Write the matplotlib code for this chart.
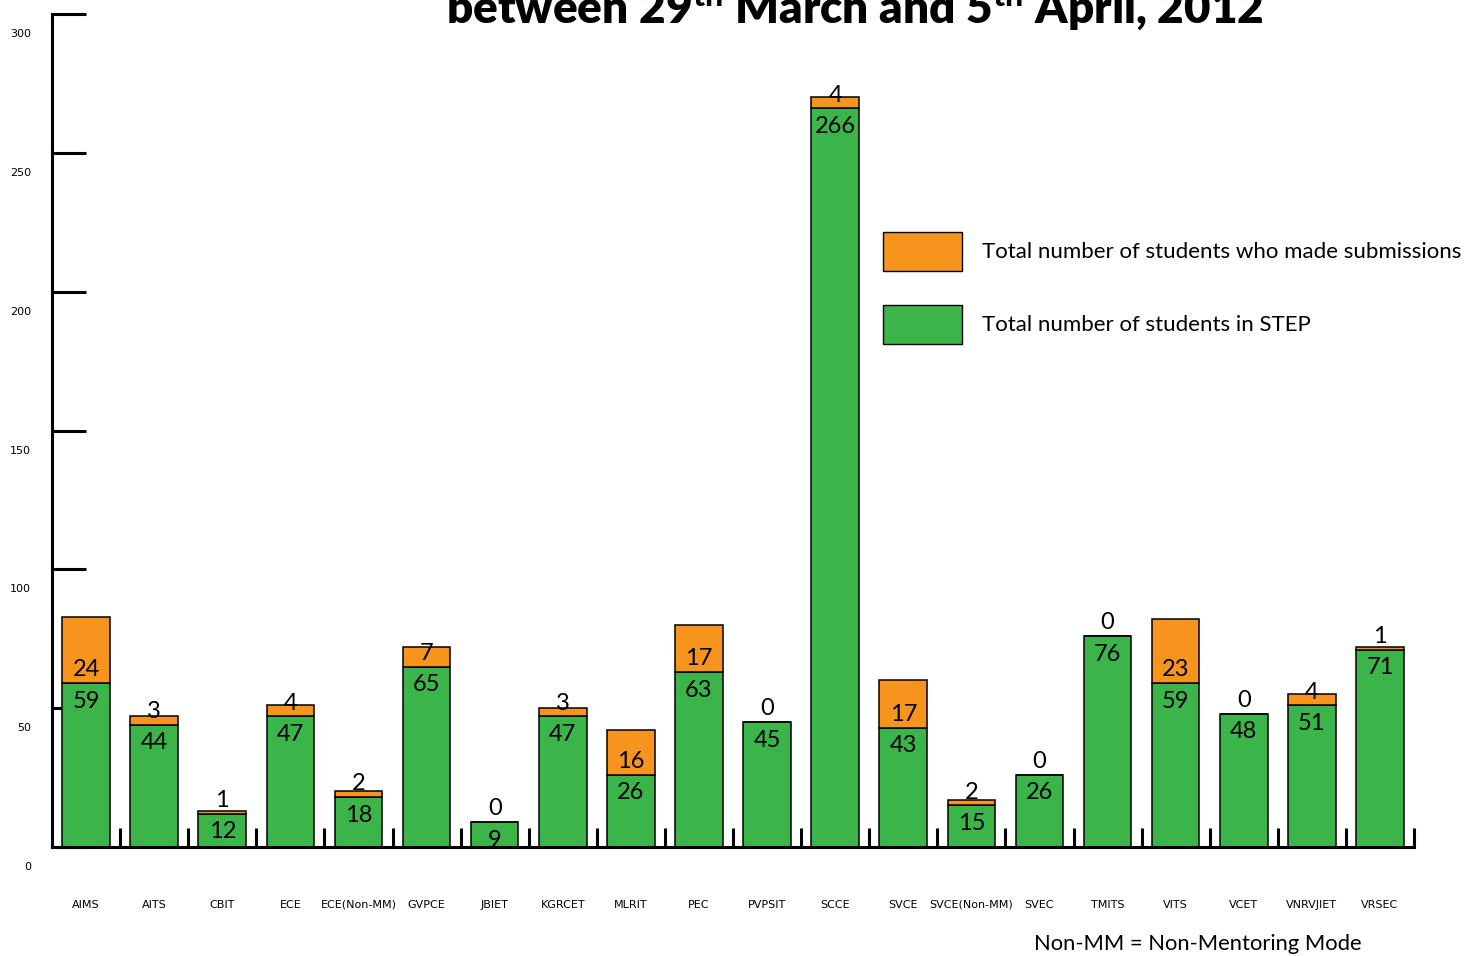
import matplotlib
matplotlib.use("Agg")
import matplotlib.pyplot as plt
from matplotlib.patches import Patch
from matplotlib.transforms import ScaledTranslation

# data
colleges = ["AIMS", "AITS", "CBIT", "ECE", "ECE(Non-MM)", "GVPCE", "JBIET", "KGRCET",
            "MLRIT", "PEC", "PVPSIT", "SCCE", "SVCE", "SVCE(Non-MM)", "SVEC", "TMITS",
            "VITS", "VCET", "VNRVJIET", "VRSEC"]
in_step = [59, 44, 12, 47, 18, 65, 9, 47, 26, 63, 45, 266, 43, 15, 26, 76, 59, 48, 51, 71]
submitted = [24, 3, 1, 4, 2, 7, 0, 3, 16, 17, 0, 4, 17, 2, 0, 0, 23, 0, 4, 1]
yticks = [0, 50, 100, 150, 200, 250, 300]

GREEN = "#3BB54A"
ORANGE = "#F7941E"
W, H, DPI = 1472, 956, 100

plt.rcParams["mathtext.fontset"] = "custom"
plt.rcParams["mathtext.bf"] = "Lato:black"
plt.rcParams["mathtext.rm"] = "Lato"

fig = plt.figure(figsize=(W / DPI, H / DPI), dpi=DPI)
ax = fig.add_axes([52 / W, 1 - 847 / H, (1414 - 52) / W, (847 - 14) / H])

x = range(len(colleges))
ax.bar(x, in_step, width=0.7, color=GREEN, edgecolor="black", linewidth=1.1, zorder=2)
ax.bar(x, submitted, width=0.7, bottom=in_step, color=ORANGE, edgecolor="black",
       linewidth=1.1, zorder=2)

for i, (g, o) in enumerate(zip(in_step, submitted)):
    ax.annotate(str(g), (i, g), xytext=(0, -5.5), textcoords="offset points",
                ha="center", va="top", fontsize=17, family="Lato")
    ax.annotate(str(o), (i, g), xytext=(0, 2), textcoords="offset points",
                ha="center", va="bottom", fontsize=17, family="Lato")

ax.set_xlim(-0.5, len(colleges) - 0.5)
ax.set_ylim(0, 300)
ax.set_axisbelow(True)
for s in ["top", "right"]:
    ax.spines[s].set_visible(False)
ax.spines["left"].set_linewidth(2.2)
ax.spines["bottom"].set_linewidth(2.2)

ax.set_yticks(yticks)
ax.tick_params(axis="y", direction="in", length=24.5, width=2.2, pad=15, labelsize=8)
offset = ScaledTranslation(0, -19 / DPI, fig.dpi_scale_trans)
for lab in ax.get_yticklabels():
    lab.set_transform(lab.get_transform() + offset)

ax.set_xticks(list(x))
ax.set_xticklabels(colleges, fontsize=8)
ax.set_xticks([i + 0.5 for i in x], minor=True)
ax.tick_params(axis="x", which="major", length=0, pad=38)
ax.tick_params(axis="x", which="minor", direction="in", length=13.5, width=2.2)

fig.text(855 / W, 1 - 24 / H,
         r"between 29$^{\mathbf{th}}$ March and 5$^{\mathbf{th}}$ April, 2012",
         ha="center", va="baseline", fontsize=33, fontweight="heavy", family="Lato")

handles = [Patch(facecolor=ORANGE, edgecolor="black"), Patch(facecolor=GREEN, edgecolor="black")]
fig.legend(handles, ["Total number of students who made submissions",
                     "Total number of students in STEP"],
           loc="upper left", bbox_to_anchor=(883 / W, 1 - 232 / H), frameon=False,
           borderpad=0, borderaxespad=0, prop={"family": "Lato", "size": 16},
           handlelength=3.56, handleheight=2.3, labelspacing=1.55, handletextpad=0.9)

fig.text(1198 / W, 1 - 944 / H, "Non-MM = Non-Mentoring Mode", ha="center", va="center",
         fontsize=15.8, family="Lato")

fig.savefig("out.png", dpi=DPI)
